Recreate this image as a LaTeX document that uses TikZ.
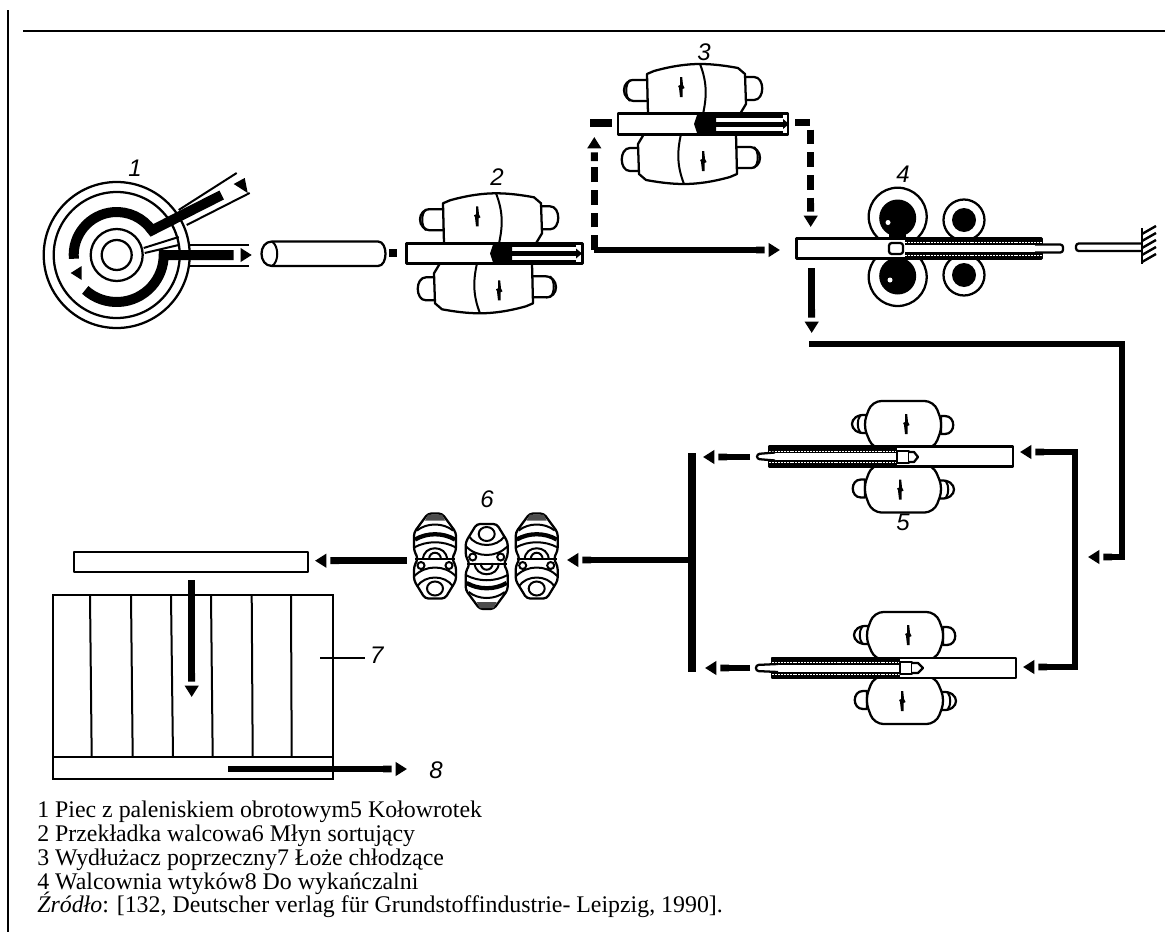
\documentclass[tikz,border=0pt]{standalone}
\usepackage{fontspec}
\setmainfont{Liberation Serif}
\setsansfont{Liberation Sans}
\usetikzlibrary{arrows.meta}
\setlength{\lineskiplimit}{-6pt}
\tikzset
{
    rollline/.style={draw, fill=white, line width=1.7pt, line join=round},
    thinline/.style={line width=1.5pt},
    flow/.style={line width=5.2pt, -{Butt Cap[sep=3pt] . Triangle[length=8.5pt,width=10pt]}},
    flowdash/.style={flow, dash pattern=on 11pt off 6pt},
    band/.style={line width=6pt},
    billet/.style={rectangle, rollline, line width=2.2pt, inner sep=0pt, outer sep=0pt},
    numlabel/.style={font=\fontsize{18}{18}\selectfont\sffamily\itshape, inner sep=0pt},
    pics/twist/.style={code={
        \fill (-1,-10) -- (1.2,-10) -- (2,-2) -- (3.5,1) -- (1.5,2) -- (1.5,10) -- (-1,10) -- (-2,1) -- (-3,-1) -- (-1,-2) -- cycle;
    }},
    pics/bigroll/.style={code={
        \draw[rollline] (-66,-44) .. controls (-82,-46) and (-82,-22) .. (-66,-23) -- (-54,-23) -- (-54,-44) -- cycle;
        \draw[thinline] (-72,-44) .. controls (-77,-40) and (-77,-27) .. (-72,-23);
        \draw[rollline] (42,-47) -- (52,-47) .. controls (63,-47) and (63,-24) .. (52,-24) -- (42,-24) -- cycle;
        \draw[rollline] (-54,-10) -- (-55,-50) -- (-48,-53) .. controls (-30,-58) and (-15,-60) .. (-2,-60) .. controls (12,-60) and (25,-58) .. (36,-56) -- (43,-50) -- (44,-20) -- (38,-10) -- cycle;
        \draw[thinline] (-2,-60) .. controls (5,-42) and (5,-28) .. (1,-10);
        \pic at (-21,-37) {twist};
    }},
    pics/sideroll/.style={code={
        \draw[rollline] (-36,-32) .. controls (-56,-34) and (-56,-12) .. (-36,-14) -- cycle;
        \draw[thinline] (-43,-31) .. controls (-46,-27) and (-46,-19) .. (-43,-15);
        \draw[rollline] (38,-31) -- (42,-31) .. controls (53,-31) and (53,-13) .. (42,-13) -- (38,-13) -- cycle;
        \draw[rollline, rounded corners=7pt] (-30,2) -- (-40,-22) -- (-31,-46) -- (31,-46) -- (40,-22) -- (31,2) -- cycle;
        \pic at (3,-23) {twist};
    }},
    pics/rollpack/.style={code={
        \draw[rollline, rounded corners=2.5pt] (-7,-43) -- (7,-43) -- (21,-24) -- (21,-6) -- (17,2) -- (21,10) -- (21,24) -- (10,42) -- (-10,42) -- (-21,24) -- (-21,10) -- (-17,2) -- (-21,-6) -- (-21,-24) -- cycle;
        \fill[black!70] (-7,-42) -- (7,-42) -- (10,-36) -- (-10,-36) -- cycle;
        \draw[thinline] (-18,-26) .. controls (-8,-34) and (8,-34) .. (18,-26);
        \draw[line width=3.2pt] (-20,-17) .. controls (-8,-24) and (8,-24) .. (20,-17);
        \draw[thinline] (-21,-9) .. controls (-8,-16) and (8,-16) .. (21,-9);
        \draw[thinline] (-12,3) .. controls (-12,-12) and (12,-12) .. (12,3);
        \draw[thinline] (-6,3) .. controls (-6,-6) and (6,-6) .. (6,3);
        \draw[thinline] (-20,2) -- (20,2);
        \draw[thinline] (-14,9) circle (3.5) (14,9) circle (3.5);
        \draw[thinline] (-21,20) .. controls (-10,8) and (10,8) .. (21,20);
        \draw[thinline] (-18,30) .. controls (-10,18) and (10,18) .. (18,30);
        \draw[thinline] (0,32) ellipse (8 and 7);
    }},
    pics/tube/.style={code={
        \fill (-9,0) -- (-6,-9) -- (13,-10.5) -- (13,10.5) -- (-6,9) -- cycle;
        \fill (13,-10.5) rectangle (#1,-6.5);
        \fill (13,6.5) rectangle (#1,10.5);
        \fill (13,-2.5) rectangle (#1,2.5);
        \fill (#1,-5) -- (#1+6,0) -- (#1,5) -- cycle;
    }},
}
\newcommand{\pipeband}[5]{% x1, x2, gorna y, dolna y, srodek
    \fill (#1,#3) rectangle (#2,#3+6);
    \fill (#1,#4-6) rectangle (#2,#4);
    \draw[white, line width=0.5pt, dash pattern=on 1.5pt off 0.7pt] (#1,#3+4) -- (#2,#3+4) (#1,#4-4) -- (#2,#4-4);
    \draw[line width=0.7pt] (#1,#5-4) -- (#2,#5-4) (#1,#5+4) -- (#2,#5+4);
}
\begin{document}
\begin{tikzpicture}[x=0.75pt, y=-0.75pt]
    \useasboundingbox (0,0) rectangle (1165,932);

    % Ramka
    \coordinate (frametop) at (7.7,10);
    \coordinate (framebot) at (7.7,932);
    \coordinate (ruleleft) at (23,30.7);
    \coordinate (ruleright) at (1165,30.7);
    \draw[line width=1.6pt] (frametop) -- (framebot);
    \draw[line width=1.6pt] (ruleleft) -- (ruleright);

    % Piec
    \coordinate (furnace) at (116.7,255);
    \draw[rollline] (furnace) circle (73);
    \draw[rollline] (furnace) circle (63);
    \draw[rollline] (furnace) circle (26);
    \draw[rollline] (furnace) circle (15);
    \begin{scope}[shift={(furnace)}]
        \draw[thinline] (27,-7) -- (62,-18) (28,-2) -- (62,-10);
        \draw[fill=white, draw=white] (62,-44) -- (120,-82) -- (133,-62) -- (71,-29) -- cycle;
        \draw[thinline] (62,-45) -- (120,-82) (70,-30) -- (133,-62);
        \draw[thinline] (72,-10) -- (132,-10) (72,11) -- (132,11);
        \draw[line width=7.5pt] (-185:43) arc[start angle=-185, end angle=-35, radius=43] -- (105,-60);
        \draw[line width=7.5pt] (132:47) arc[start angle=132, end angle=0, radius=47] -- (117,0);
        \fill (117,-71) -- (128,-77) -- (131,-62) -- cycle;
        \fill (124,-7) -- (135,0) -- (124,7) -- cycle;
        \fill (-46,18) -- (-35,11) -- (-35,25) -- cycle;
    \end{scope}
    \node[numlabel] (num1) at (135,168) {1};

    % Wsad
    \draw[rollline] (272,241.5) -- (378,241.5) .. controls (388,241.5) and (388,266) .. (378,266) -- (272,266) .. controls (258,266) and (258,241.5) .. (272,241.5);
    \draw[thinline] (272,241.5) .. controls (279,246) and (279,262) .. (272,266);
    \node[fill=black, minimum size=6pt, inner sep=0pt] (dot1) at (392.7,252.7) {};

    % Przekladka walcowa
    \pic at (498,253.3) {bigroll};
    \pic[rotate=180] at (478,253.3) {bigroll};
    \node[billet, minimum width=131.5pt, minimum height=15.5pt] (bar2) at (494.5,253.5) {};
    \pic at (499,253.5) {tube=77};
    \node[numlabel] (num2) at (497,177) {2};

    % Wydluzacz poprzeczny
    \pic at (702,124) {bigroll};
    \pic[rotate=180] at (682,124) {bigroll};
    \node[billet, minimum width=127.5pt, minimum height=15.5pt] (bar3) at (703,124) {};
    \pic at (703,124) {tube=80};
    \node[numlabel] (num3) at (704,52) {3};

    % Walcownia wtykow
    \draw[rollline] (897.7,216.7) circle (29);
    \draw[rollline] (897.7,277) circle (29);
    \fill (897.7,218) circle (18.5);
    \fill (897.7,276) circle (18.5);
    \fill[white] (888,222.5) circle (2.5);
    \fill[white] (890,280) circle (2.5);
    \draw[rollline] (964,220) circle (20.5);
    \draw[rollline] (964,275) circle (20.5);
    \fill (964,220) circle (12);
    \fill (964,275) circle (12);
    \fill (889,230) rectangle (906,267);
    \node[billet, minimum width=184pt, minimum height=15.5pt] (bar4) at (919,248.5) {};
    \pipeband{905}{1042}{238}{259}{248.5}
    \draw[rollline, rounded corners=2pt] (889,243) rectangle (903,254);
    \draw[rollline, rounded corners=2pt] (1035,244.5) -- (1063,244.5) -- (1063,252.5) -- (1035,252.5);
    \draw[rollline, rounded corners=2pt] (1142,243.5) -- (1076,243.5) -- (1076,251) -- (1142,251);
    \coordinate (walltop) at (1142,228);
    \coordinate (wallbot) at (1142,264);
    \draw[line width=2.2pt] (walltop) -- (wallbot);
    \draw[line width=1.8pt] (1142,234) -- (1156,226) (1142,241) -- (1156,233) (1142,248) -- (1156,240) (1142,255) -- (1156,247) (1142,262) -- (1156,254);
    \node[numlabel] (num4) at (903,174) {4};

    % Kolowrotek
    \pic at (903,447) {sideroll};
    \pic[rotate=180] at (903,466.5) {sideroll};
    \node[billet, minimum width=183pt, minimum height=14.5pt] (bar5a) at (891,456.5) {};
    \pipeband{769}{897}{447}{466}{456.5}
    \draw[rollline, rounded corners=2pt] (775,452.5) -- (757,454) -- (757,459) -- (775,460.5);
    \draw[rollline] (897,451) rectangle (909,463);
    \draw[rollline] (909,452) -- (914,452) -- (918,457) -- (914,462) -- (909,462);
    \node[numlabel] (num5) at (903,522) {5};

    \pic at (905,658) {sideroll};
    \pic[rotate=180] at (905,678) {sideroll};
    \node[billet, minimum width=183pt, minimum height=15pt] (bar5b) at (894,668) {};
    \pipeband{772}{900}{658}{678}{668}
    \draw[rollline, rounded corners=2pt] (778,664) -- (756,665) -- (756,671) -- (778,672);
    \draw[rollline] (900,662) rectangle (912,674);
    \draw[rollline] (912,663) -- (918,663) -- (923,668) -- (918,673) -- (912,673);

    % Mlyn sortujacy
    \pic at (435,556.5) {rollpack};
    \pic[rotate=180] at (486.7,566) {rollpack};
    \pic at (536.7,556.5) {rollpack};
    \node[numlabel] (num6) at (487,499) {6};

    % Loze chlodzace
    \node[billet, minimum width=175.5pt, minimum height=15pt] (rail) at (191,562) {};
    \node[draw, line width=1.8pt, fill=white, minimum width=210pt, minimum height=138pt, inner sep=0pt, outer sep=0pt] (bed) at (192.7,687) {};
    \draw[thinline] (90,595) -- (91.7,757) (131,595) -- (132.7,757) (171,595) -- (173,757) (211,595) -- (212.7,757) (251.7,595) -- (252.7,757) (291,595) -- (291.7,757);
    \draw[line width=2pt] (bed.west |- 0,757) -- (bed.east |- 0,757);
    \coordinate (lead7a) at (320,657.7);
    \coordinate (lead7b) at (365,657.7);
    \draw[thinline] (lead7a) -- (lead7b);
    \node[numlabel] (num7) at (376.7,655) {7};
    \node[numlabel] (num8) at (436,770) {8};

    % Strzalki
    \coordinate (up1) at (594.3,250);
    \coordinate (up2) at (594.3,137);
    \coordinate (right1) at (590,123);
    \coordinate (right2) at (612,123);
    \coordinate (main2) at (780,250);
    \coordinate (down1) at (795,122.7);
    \coordinate (down2) at (810.7,122.7);
    \coordinate (down3) at (810.7,227);
    \coordinate (exit1) at (811.7,268);
    \coordinate (exit2) at (811.7,333);
    \coordinate (line1) at (809,344);
    \coordinate (line2) at (1122,344);
    \coordinate (line3) at (1122,557);
    \coordinate (line4) at (1088,557);
    \coordinate (brk0) at (1075,557);
    \coordinate (brk1) at (1075,452);
    \coordinate (brk2) at (1020,452);
    \coordinate (brk3) at (1075,667);
    \coordinate (brk4) at (1023,667);
    \coordinate (left1) at (750,457);
    \coordinate (left2) at (703,457);
    \coordinate (left3) at (750,668);
    \coordinate (left4) at (705,668);
    \coordinate (tee1) at (691.5,453);
    \coordinate (tee2) at (691.5,672);
    \coordinate (tee3) at (691.5,560);
    \coordinate (pack1) at (567,560);
    \coordinate (pack2) at (407,560.7);
    \coordinate (pack3) at (315,560.7);
    \coordinate (cool1) at (191.7,580);
    \coordinate (cool2) at (191.7,697);
    \coordinate (end1) at (228,769);
    \coordinate (end2) at (407,769);

    \draw[flow] (up1) -- (main2);
    \draw[flowdash] (up1) -- (up2);
    \draw[band] (right1) -- (right2);
    \draw[flowdash] (down1) -- (down2) -- (down3);
    \draw[flow] (exit1) -- (exit2);
    \draw[flow] (line1) -- (line2) -- (line3) -- (line4);
    \draw[flow] (brk0) -- (brk1) -- (brk2);
    \draw[flow] (brk0) -- (brk3) -- (brk4);
    \draw[flow] (left1) -- (left2);
    \draw[flow] (left3) -- (left4);
    \draw[band] (tee1) -- (tee2);
    \draw[flow] (tee3) -- (pack1);
    \draw[flow] (pack2) -- (pack3);
    \draw[flow] (cool1) -- (cool2);
    \draw[flow] (end1) -- (end2);

    % Legenda
    \node[anchor=north west, inner sep=0pt, align=left, font=\fontsize{17.9}{17.8}\selectfont] (legend) at (37,801) {1 Piec z paleniskiem obrotowym5 Kołowrotek\\2 Przekładka walcowa6 Młyn sortujący\\3 Wydłużacz poprzeczny7 Łoże chłodzące\\4 Walcownia wtyków8 Do wykańczalni\\\textit{Źródło}: [132, Deutscher verlag für Grundstoffindustrie- Leipzig, 1990].};
\end{tikzpicture}
\end{document}
